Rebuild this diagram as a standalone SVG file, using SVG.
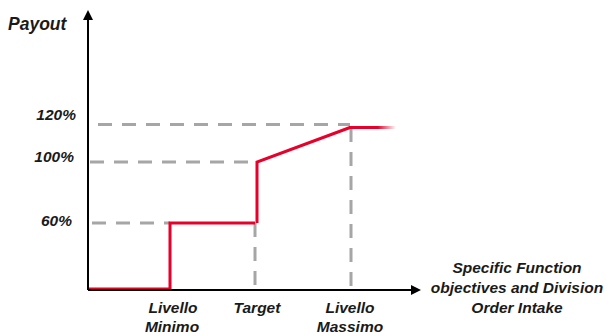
<svg xmlns="http://www.w3.org/2000/svg" width="611" height="336" viewBox="0 0 611 336">
<style>
text{font-family:"Liberation Sans",Arial,sans-serif;font-weight:bold;font-style:italic;fill:#1a1a1a}
.lbl{font-size:15.5px}
.dash{stroke:#a6a6a6;stroke-width:3;stroke-dasharray:14 10;fill:none}
.axis{stroke:#000;stroke-width:2;fill:none}
.red{stroke:#e8002a;stroke-width:3;fill:none;stroke-linejoin:miter}
</style>
<defs>
<marker id="arr" markerWidth="10" markerHeight="10" refX="8" refY="5" orient="auto" markerUnits="userSpaceOnUse">
<path d="M0,0 L10,5 L0,10 Z" fill="#000"/>
</marker>
<linearGradient id="fade" x1="350" y1="0" x2="396" y2="0" gradientUnits="userSpaceOnUse">
<stop offset="0" stop-color="#e8002a" stop-opacity="1"/>
<stop offset="0.6" stop-color="#e8002a" stop-opacity="1"/>
<stop offset="1" stop-color="#e8002a" stop-opacity="0"/>
</linearGradient>
</defs>
<g id="connectors">
<path class="dash" d="M98,124.5 H350"/>
<path class="dash" d="M90,162 H256"/>
<path class="dash" d="M92,223 H170"/>
<path class="dash" d="M255,223 V290"/>
<path class="dash" d="M351,128 V290"/>
<path class="red" d="M88,289 H170 V223 H255 M257,223 V162 L350,127.5"/>
<path d="M349,127.5 H396" stroke="url(#fade)" stroke-width="3" fill="none"/>
<path class="axis" d="M88,290 V12" marker-end="url(#arr)"/>
<path class="axis" d="M88,290 H419" marker-end="url(#arr)"/>
</g>
<g id="yaxis-label"><text x="8" y="30" style="font-size:17.5px">Payout</text></g>
<g id="tick-120"><text class="lbl" x="76" y="120" text-anchor="end">120%</text></g>
<g id="tick-100"><text class="lbl" x="74" y="162" text-anchor="end">100%</text></g>
<g id="tick-60"><text class="lbl" x="72" y="226" text-anchor="end">60%</text></g>
<g id="x-min"><text class="lbl" x="173" y="313" text-anchor="middle">Livello</text><text class="lbl" x="172" y="332" text-anchor="middle">Minimo</text></g>
<g id="x-target"><text class="lbl" x="257" y="313" text-anchor="middle">Target</text></g>
<g id="x-max"><text class="lbl" x="350" y="313" text-anchor="middle">Livello</text><text class="lbl" x="350" y="332" text-anchor="middle">Massimo</text></g>
<g id="xaxis-label">
<text class="lbl" x="517" y="273" text-anchor="middle">Specific Function</text>
<text class="lbl" x="517" y="293" text-anchor="middle">objectives and Division</text>
<text class="lbl" x="517" y="313" text-anchor="middle">Order Intake</text>
</g>
</svg>
